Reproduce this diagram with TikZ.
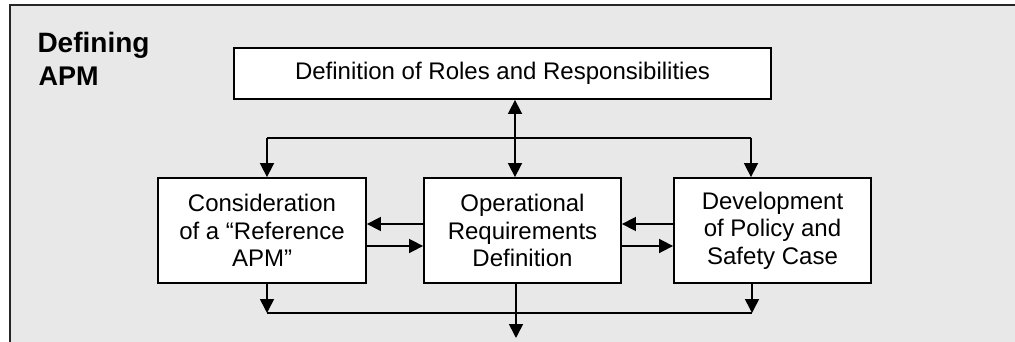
\documentclass[tikz,border=0pt]{standalone}
\usepackage{fontspec}
\setmainfont{Liberation Sans}
\usetikzlibrary{arrows.meta}
\definecolor{panelgray}{RGB}{232,232,232}

\begin{document}
\begin{tikzpicture}[x=1pt, y=-1pt,
  stagebox/.style={draw, line width=1.8pt, fill=white, inner sep=0pt, align=center,
    font=\fontsize{24}{27.5}\selectfont},
  link/.style={line width=1.6pt},
  flow/.style={link, -{Triangle[length=14pt, width=14pt]}},
  twoway/.style={link, {Triangle[length=14pt, width=14pt]}-{Triangle[length=14pt, width=14pt]}}]

% Page and panel
\useasboundingbox (0,0) rectangle (1015,342);
\clip (0,0) rectangle (1015,342);
\fill[panelgray] (10,5) rectangle (1030,360);
\draw[line width=2.2pt, black!85] (1030,5) -- (10,5) -- (10,360);

% Title
\node (deftitle) [anchor=base west, font=\fontsize{28}{33}\bfseries\selectfont] at (34,53) {Defining};
\node (apmtitle) [anchor=base west, font=\fontsize{27}{33}\bfseries\selectfont] at (35,86) {APM};

% Boxes
\node (roles) [stagebox, minimum width=537pt, minimum height=51pt] at (502.5,73.5) {Definition of Roles and Responsibilities};
\node (refapm) [stagebox, minimum width=208pt, minimum height=105pt] at (262,230.5) {Consideration\\of a “Reference\\APM”};
\node (opreq) [stagebox, minimum width=197pt, minimum height=105pt] at (522.5,230.5) {Operational\\Requirements\\Definition};
\node (policy) [stagebox, minimum width=197pt, minimum height=105pt] at (772.5,230.5) {Development\\of Policy and\\Safety Case};

% Define coordinates
\coordinate (split) at (515,138); % Top junction
\coordinate (splitleft) at (267,138);
\coordinate (splitright) at (751,138);
\coordinate (upperrow) at (0,224);
\coordinate (lowerrow) at (0,246);
\coordinate (joinleft) at (267,313); % Bottom junction
\coordinate (joinright) at (752,313);
\coordinate (output) at (516,338);

% Top distribution
\draw[twoway] (roles.south -| split) -- (opreq.north -| split);
\draw[link] (splitleft) -- (splitright);
\draw[flow] (splitleft) -- (refapm.north -| splitleft);
\draw[flow] (splitright) -- (policy.north -| splitright);

% Exchanges between boxes
\draw[flow] (opreq.west |- upperrow) -- (refapm.east |- upperrow);
\draw[flow] (refapm.east |- lowerrow) -- (opreq.west |- lowerrow);
\draw[flow] (policy.west |- upperrow) -- (opreq.east |- upperrow);
\draw[flow] (opreq.east |- lowerrow) -- (policy.west |- lowerrow);

% Bottom collection
\draw[flow] (refapm.south -| joinleft) -- (joinleft);
\draw[flow] (policy.south -| joinright) -- (joinright);
\draw[link] (joinleft) -- (joinright);
\draw[flow] (opreq.south -| output) -- (output);

\end{tikzpicture}
\end{document}
